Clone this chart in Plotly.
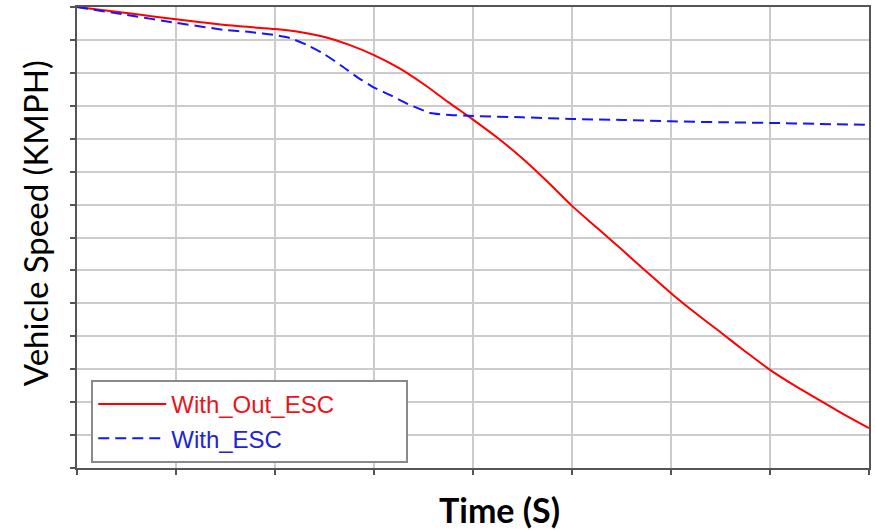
import plotly.graph_objects as go

# Time in grid units (no tick labels on the original axes)
time_without_esc = [0, 0.25, 0.5, 0.75, 1.0, 1.25, 1.5, 1.75, 2.0, 2.25, 2.5, 2.75, 3.0, 3.25, 3.5, 3.75,
                    4.0, 4.25, 4.5, 4.75, 5.0, 5.25, 5.5, 5.75, 6.0, 6.25, 6.5, 6.75, 7.0, 7.25, 7.5, 7.75, 8.0]
speed_without_esc = [14.0, 13.91, 13.82, 13.72, 13.63, 13.54, 13.45, 13.39, 13.33, 13.24, 13.09, 12.85, 12.54,
                     12.15, 11.66, 11.11, 10.58, 10.02, 9.4, 8.7, 7.96, 7.3, 6.64, 5.97, 5.31, 4.7, 4.12,
                     3.54, 2.98, 2.5, 2.06, 1.62, 1.21]

time_with_esc = [0, 0.5, 1.0, 1.5, 1.75, 2.0, 2.15, 2.32, 2.48, 2.66, 2.83, 2.99, 3.16, 3.36,
                 3.57, 3.77, 4.0, 4.5, 5.0, 5.5, 6.0, 6.5, 7.0, 7.5, 8.0]
speed_with_esc = [14.0, 13.76, 13.52, 13.3, 13.24, 13.15, 13.06, 12.85, 12.6, 12.24, 11.87, 11.57, 11.33, 11.03,
                  10.78, 10.72, 10.69, 10.65, 10.6, 10.57, 10.53, 10.5, 10.48, 10.45, 10.42]

series_names = ["With_Out_ESC", "With_ESC"]
x_title = "Time (S)"
y_title = "Vehicle Speed (KMPH)"
pad = "\u00a0" * 10

fig = go.Figure()
fig.add_trace(go.Scatter(
    x=time_without_esc, y=speed_without_esc, mode="lines",
    name="<span style='color:#e8161c'>" + series_names[0] + "</span>" + pad,
    line=dict(color="#ff0000", width=2, shape="spline", smoothing=0.8),
))
fig.add_trace(go.Scatter(
    x=time_with_esc, y=speed_with_esc, mode="lines",
    name="<span style='color:#2323d6'>" + series_names[1] + "</span>",
    line=dict(color="#1414ff", width=2, dash="11px,6px", shape="spline", smoothing=0.5),
))

axis_common = dict(
    showticklabels=False, ticks="outside", ticklen=5, tickwidth=1.5, tickcolor="#555555",
    showline=True, linecolor="#555555", linewidth=2, mirror=True, automargin=False,
    showgrid=True, gridcolor="#cccccc", gridwidth=1.5, zeroline=False, dtick=1,
)

fig.update_layout(
    width=875, height=530,
    margin=dict(l=77, r=6, t=7, b=62),
    paper_bgcolor="white", plot_bgcolor="white",
    xaxis=dict(range=[0, 8], **axis_common),
    yaxis=dict(range=[0, 14], **axis_common),
    legend=dict(
        x=0.018, y=0.011, xanchor="left", yanchor="bottom",
        bgcolor="white", bordercolor="#8a8a8a", borderwidth=2,
        font=dict(family="Liberation Sans, Arial", size=24),
        itemwidth=68, tracegroupgap=0,
    ),
    showlegend=True,
    annotations=[
        dict(text="<b>" + x_title + "</b>", xref="paper", yref="paper", x=0.533, y=-0.091,
             xanchor="center", yanchor="middle", showarrow=False,
             font=dict(family="Lato", size=34, color="#000000")),
        dict(text=y_title, xref="paper", yref="paper", x=-0.053, y=0.531, textangle=-90,
             xanchor="center", yanchor="middle", showarrow=False,
             font=dict(family="Lato", size=33, color="#000000")),
    ],
)

fig.write_html("out.html", config={"displayModeBar": False},
               post_script="document.body.style.margin='0px';")
